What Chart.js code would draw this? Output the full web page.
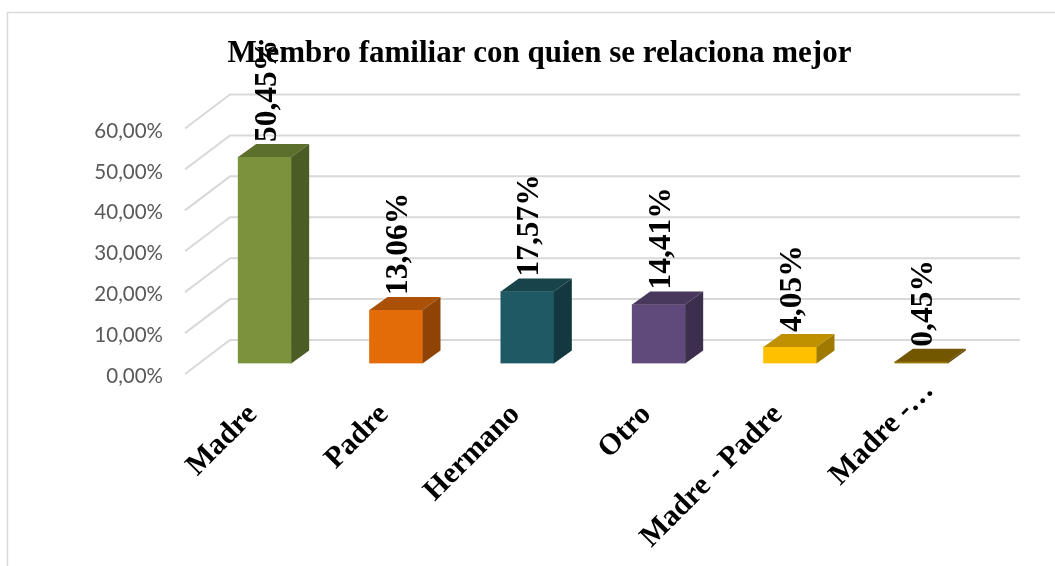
<!DOCTYPE html>
<html>
<head>
<meta charset="utf-8">
<title>Miembro familiar</title>
<script src="https://cdn.jsdelivr.net/npm/chart.js@4"></script>
<style>
  html, body { margin: 0; padding: 0; background: #fff; }
  #wrap { position: relative; width: 1055px; height: 566px; }
</style>
</head>
<body>
<div id="wrap"><canvas id="chart"></canvas></div>
<script>
const chartTitle = 'Miembro familiar con quien se relaciona mejor';
const categories = ['Madre', 'Padre', 'Hermano', 'Otro', 'Madre - Padre', 'Madre -…'];
const values = [50.45, 13.06, 17.57, 14.41, 4.05, 0.45];
const frontColors = ['#7a933c', '#e36c09', '#1f5964', '#604a7b', '#ffc000', '#997300'];
const topColors = ['#5c6f2d', '#ab5107', '#17434b', '#48385c', '#bf9000', '#735600'];
const sideColors = ['#4c5c25', '#8f4406', '#13383f', '#3c2e4d', '#a07900', '#604800'];

const serif = '"Liberation Serif", "Times New Roman", serif';
const fmt = v => v.toFixed(2).replace('.', ',') + '%';

const bars3d = {
    id: 'bars3d',
    beforeDatasetsDraw(chart) {
        // back wall + left wall gridlines
        const { ctx, scales: { y } } = chart;
        ctx.save();
        ctx.strokeStyle = '#d9d9d9';
        ctx.lineWidth = 2;
        y.ticks.forEach(t => {
            const py = y.getPixelForValue(t.value);
            ctx.beginPath();
            ctx.moveTo(185, py + 10.5);
            ctx.lineTo(230, py - 23.5);
            ctx.lineTo(1020, py - 23.5);
            ctx.stroke();
        });
        ctx.restore();
    },
    afterDatasetsDraw(chart) {
        const { ctx } = chart;
        const dx = 18, dy = 13;
        ctx.save();
        chart.getDatasetMeta(0).data.forEach((bar, i) => {
            const l = bar.x - bar.width / 2, r = bar.x + bar.width / 2;
            ctx.fillStyle = topColors[i];
            ctx.beginPath();
            ctx.moveTo(l, bar.y);
            ctx.lineTo(l + dx, bar.y - dy);
            ctx.lineTo(r + dx, bar.y - dy);
            ctx.lineTo(r, bar.y);
            ctx.fill();
            ctx.fillStyle = sideColors[i];
            ctx.beginPath();
            ctx.moveTo(r, bar.y);
            ctx.lineTo(r + dx, bar.y - dy);
            ctx.lineTo(r + dx, bar.base - dy);
            ctx.lineTo(r, bar.base);
            ctx.fill();

            // value label, turned 90 degrees
            ctx.save();
            ctx.translate(bar.x + 3, bar.y - dy - 2);
            ctx.rotate(-Math.PI / 2);
            ctx.fillStyle = '#000';
            ctx.font = 'bold 31.5px ' + serif;
            ctx.textAlign = 'left';
            ctx.textBaseline = 'middle';
            ctx.fillText(fmt(values[i]), 0, 0);
            ctx.restore();
        });
        ctx.restore();
    },
    afterDraw(chart) {
        const { ctx, scales: { x, y } } = chart;
        ctx.save();
        ctx.fillStyle = '#000';
        ctx.font = 'bold 31px ' + serif;
        ctx.textAlign = 'center';
        ctx.textBaseline = 'alphabetic';
        ctx.fillText(chartTitle, 539.5, 62);

        // the cut-off label sits higher than the others, the axis can't move one tick on its own
        const last = categories.length - 1;
        ctx.save();
        ctx.translate(x.getPixelForTick(last) + 8, y.bottom + 22.5);
        ctx.rotate(-Math.PI / 4);
        ctx.font = 'bold 30px ' + serif;
        ctx.textAlign = 'right';
        ctx.textBaseline = 'middle';
        ctx.fillText(categories[last], 0, 0);
        ctx.restore();

        // chart frame
        ctx.strokeStyle = '#d9d9d9';
        ctx.lineWidth = 1.5;
        ctx.beginPath();
        ctx.moveTo(7.5, 566);
        ctx.lineTo(7.5, 12.5);
        ctx.lineTo(1055, 12.5);
        ctx.stroke();
        ctx.restore();
    }
};

new Chart(document.getElementById('chart'), {
    type: 'bar',
    data: {
        labels: categories,
        datasets: [{
            data: values,
            backgroundColor: frontColors,
            barThickness: 53
        }]
    },
    options: {
        responsive: true,
        maintainAspectRatio: false,
        animation: false,
        layout: { padding: { top: 118, right: 68, bottom: 0, left: 0 } },
        plugins: { legend: { display: false }, tooltip: { enabled: false } },
        scales: {
            x: {
                grid: { display: false },
                border: { display: false },
                afterFit(scale) { scale.height = 202.5; },
                ticks: {
                    autoSkip: false,
                    maxRotation: 45,
                    minRotation: 45,
                    padding: 26,
                    labelOffset: -12,
                    color: '#000',
                    font: { family: serif, size: 30, weight: 'bold' },
                    callback: (v, i) => (i === categories.length - 1 ? '' : categories[i])
                }
            },
            y: {
                min: 0,
                max: 60,
                grid: { display: false, drawTicks: false },
                border: { display: false },
                afterFit(scale) { scale.width = 199; },
                ticks: {
                    stepSize: 10,
                    padding: 36,
                    labelOffset: 13,
                    color: '#595959',
                    font: { family: 'Lato', size: 20.5 },
                    callback: v => fmt(v)
                }
            }
        }
    },
    plugins: [bars3d]
});
</script>
</body>
</html>
